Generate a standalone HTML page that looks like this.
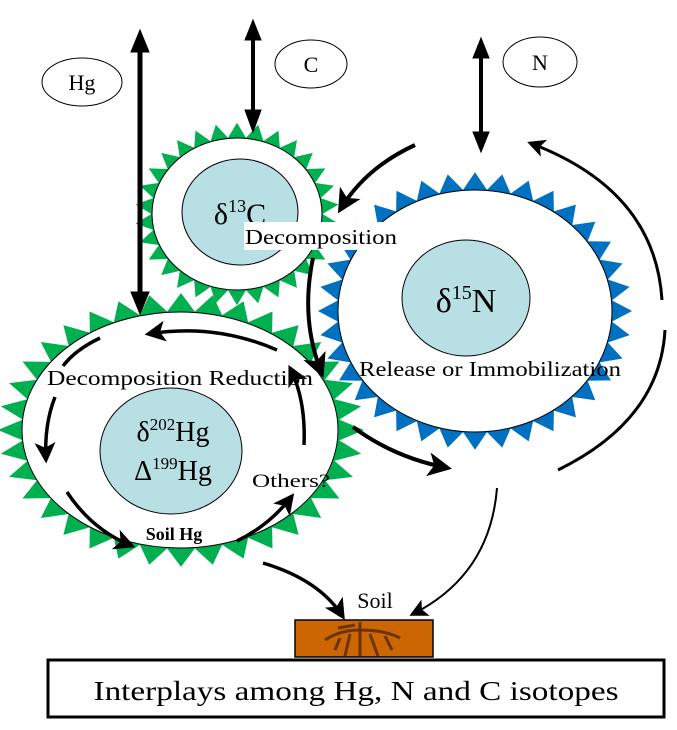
<!DOCTYPE html>
<html><head><meta charset="utf-8"><style>
html,body{margin:0;padding:0;background:#fff;}
svg{display:block;font-family:"Liberation Serif",serif;}
</style></head><body>
<svg width="677" height="730" viewBox="0 0 677 730" xmlns="http://www.w3.org/2000/svg" xmlns:xlink="http://www.w3.org/1999/xlink">
<defs>
<marker id="ah" markerWidth="9" markerHeight="9" refX="7" refY="4.5" orient="auto" markerUnits="strokeWidth"><path d="M0,0 L9,4.5 L0,9 L2,4.5z" fill="#000"/></marker>
<marker id="ah2" markerWidth="6" markerHeight="6" refX="5" refY="3" orient="auto" markerUnits="strokeWidth"><path d="M0,0 L6,3 L0,6 L1.5,3z" fill="#000"/></marker>
<polygon id="th" points="-14,-158 0,-183 14,-158" fill="#00b050"/>
<polygon id="tc" points="-9,-85 0,-102 9,-85" fill="#00b050"/>
<polygon id="tn" points="-12,-137 0,-157 12,-137" fill="#0070c0"/>
</defs>

<g transform="translate(475,311) scale(1,0.884)">
<use href="#tn" transform="rotate(0)"/><use href="#tn" transform="rotate(10)"/><use href="#tn" transform="rotate(20)"/><use href="#tn" transform="rotate(30)"/><use href="#tn" transform="rotate(40)"/><use href="#tn" transform="rotate(50)"/><use href="#tn" transform="rotate(60)"/><use href="#tn" transform="rotate(70)"/><use href="#tn" transform="rotate(80)"/><use href="#tn" transform="rotate(90)"/><use href="#tn" transform="rotate(100)"/><use href="#tn" transform="rotate(110)"/><use href="#tn" transform="rotate(120)"/><use href="#tn" transform="rotate(130)"/><use href="#tn" transform="rotate(140)"/><use href="#tn" transform="rotate(150)"/><use href="#tn" transform="rotate(160)"/><use href="#tn" transform="rotate(170)"/><use href="#tn" transform="rotate(180)"/><use href="#tn" transform="rotate(190)"/><use href="#tn" transform="rotate(200)"/><use href="#tn" transform="rotate(210)"/><use href="#tn" transform="rotate(220)"/><use href="#tn" transform="rotate(230)"/><use href="#tn" transform="rotate(240)"/><use href="#tn" transform="rotate(250)"/><use href="#tn" transform="rotate(260)"/><use href="#tn" transform="rotate(270)"/><use href="#tn" transform="rotate(280)"/><use href="#tn" transform="rotate(290)"/><use href="#tn" transform="rotate(300)"/><use href="#tn" transform="rotate(310)"/><use href="#tn" transform="rotate(320)"/><use href="#tn" transform="rotate(330)"/><use href="#tn" transform="rotate(340)"/><use href="#tn" transform="rotate(350)"/>
<circle r="138" fill="#0070c0"/>
</g>
<ellipse cx="475" cy="311" rx="137" ry="121" fill="#fff" stroke="#000" stroke-width="1"/>
<ellipse cx="466" cy="298" rx="64" ry="58" fill="#b8dfe3" stroke="#000" stroke-width="1"/>
<text x="466" y="312" font-size="34" text-anchor="middle">δ<tspan font-size="20" dy="-13">15</tspan><tspan dy="13">N</tspan></text>
<text x="490" y="376" font-size="21" text-anchor="middle" textLength="262" lengthAdjust="spacingAndGlyphs">Release or Immobilization</text>

<g transform="translate(237,214) scale(1,0.895)">
<use href="#tc" transform="rotate(0)"/><use href="#tc" transform="rotate(12)"/><use href="#tc" transform="rotate(24)"/><use href="#tc" transform="rotate(36)"/><use href="#tc" transform="rotate(48)"/><use href="#tc" transform="rotate(60)"/><use href="#tc" transform="rotate(72)"/><use href="#tc" transform="rotate(84)"/><use href="#tc" transform="rotate(96)"/><use href="#tc" transform="rotate(108)"/><use href="#tc" transform="rotate(120)"/><use href="#tc" transform="rotate(132)"/><use href="#tc" transform="rotate(144)"/><use href="#tc" transform="rotate(156)"/><use href="#tc" transform="rotate(168)"/><use href="#tc" transform="rotate(180)"/><use href="#tc" transform="rotate(192)"/><use href="#tc" transform="rotate(204)"/><use href="#tc" transform="rotate(216)"/><use href="#tc" transform="rotate(228)"/><use href="#tc" transform="rotate(240)"/><use href="#tc" transform="rotate(252)"/><use href="#tc" transform="rotate(264)"/><use href="#tc" transform="rotate(276)"/><use href="#tc" transform="rotate(288)"/><use href="#tc" transform="rotate(300)"/><use href="#tc" transform="rotate(312)"/><use href="#tc" transform="rotate(324)"/><use href="#tc" transform="rotate(336)"/><use href="#tc" transform="rotate(348)"/>
<circle r="86" fill="#00b050"/>
</g>
<ellipse cx="237" cy="214" rx="85" ry="76" fill="#fff" stroke="#000" stroke-width="1"/>
<ellipse cx="240" cy="212" rx="58" ry="53" fill="#b8dfe3" stroke="#000" stroke-width="1"/>
<text x="240" y="224" font-size="30" text-anchor="middle">δ<tspan font-size="18" dy="-12">13</tspan><tspan dy="12">C</tspan></text>
<rect x="244" y="222" width="154" height="28" fill="#fff"/>
<text x="245" y="244" font-size="21" textLength="152" lengthAdjust="spacingAndGlyphs">Decomposition</text>

<g transform="translate(181,430) scale(1,0.748)">
<use href="#th" transform="rotate(0)"/><use href="#th" transform="rotate(10)"/><use href="#th" transform="rotate(20)"/><use href="#th" transform="rotate(30)"/><use href="#th" transform="rotate(40)"/><use href="#th" transform="rotate(50)"/><use href="#th" transform="rotate(60)"/><use href="#th" transform="rotate(70)"/><use href="#th" transform="rotate(80)"/><use href="#th" transform="rotate(90)"/><use href="#th" transform="rotate(100)"/><use href="#th" transform="rotate(110)"/><use href="#th" transform="rotate(120)"/><use href="#th" transform="rotate(130)"/><use href="#th" transform="rotate(140)"/><use href="#th" transform="rotate(150)"/><use href="#th" transform="rotate(160)"/><use href="#th" transform="rotate(170)"/><use href="#th" transform="rotate(180)"/><use href="#th" transform="rotate(190)"/><use href="#th" transform="rotate(200)"/><use href="#th" transform="rotate(210)"/><use href="#th" transform="rotate(220)"/><use href="#th" transform="rotate(230)"/><use href="#th" transform="rotate(240)"/><use href="#th" transform="rotate(250)"/><use href="#th" transform="rotate(260)"/><use href="#th" transform="rotate(270)"/><use href="#th" transform="rotate(280)"/><use href="#th" transform="rotate(290)"/><use href="#th" transform="rotate(300)"/><use href="#th" transform="rotate(310)"/><use href="#th" transform="rotate(320)"/><use href="#th" transform="rotate(330)"/><use href="#th" transform="rotate(340)"/><use href="#th" transform="rotate(350)"/>
<circle r="159" fill="#00b050"/>
</g>
<ellipse cx="180" cy="430" rx="158" ry="118" fill="#fff" stroke="#000" stroke-width="1"/>
<ellipse cx="171" cy="451" rx="71" ry="63" fill="#b8dfe3" stroke="#000" stroke-width="1"/>
<text x="173" y="441" font-size="28" text-anchor="middle">δ<tspan font-size="17" dy="-11">202</tspan><tspan dy="11">Hg</tspan></text>
<text x="173" y="480" font-size="28" text-anchor="middle">Δ<tspan font-size="17" dy="-11">199</tspan><tspan dy="11">Hg</tspan></text>
<text x="47" y="385" font-size="21" textLength="266" lengthAdjust="spacingAndGlyphs">Decomposition Reduction</text>
<text x="252" y="487" font-size="19" textLength="78" lengthAdjust="spacingAndGlyphs">Others?</text>
<text x="174" y="540" font-size="18" font-weight="bold" text-anchor="middle">Soil Hg</text>

<g fill="none" stroke="#000" stroke-width="3.5">
<path d="M277,350 Q215,323 148,334" marker-end="url(#ah2)"/>
<path d="M100,338 Q75,350 63,366"/>
<path d="M55,397 Q44,425 46,460" marker-end="url(#ah2)"/>
<path d="M67,492 Q92,530 132,546" marker-end="url(#ah2)"/>
<path d="M237,541 Q270,525 292,496" marker-end="url(#ah2)"/>
<path d="M304,445 Q306,400 290,368" marker-end="url(#ah2)"/>
</g>

<g fill="none" stroke="#000">
<path d="M415,145 Q365,168 340,210" stroke-width="4" marker-end="url(#ah2)"/>
<path d="M662,300 Q655,190 530,143" stroke-width="3" marker-end="url(#ah2)"/>
<path d="M665,330 Q660,420 558,470" stroke-width="3"/>
<path d="M313,258 Q300,320 322,374" stroke-width="4" marker-end="url(#ah2)"/>
<path d="M353,427 Q395,458 448,468" stroke-width="4" marker-end="url(#ah2)"/>
<path d="M497,488 Q490,575 413,614" stroke-width="2" marker-end="url(#ah)"/>
<path d="M263,563 Q320,580 343,617" stroke-width="3.5" marker-end="url(#ah2)"/>
</g>

<g stroke="#000" fill="#000">
<line x1="140" y1="50" x2="140" y2="296" stroke-width="5"/>
<path d="M131,52 L140,30 L149,52z"/><path d="M131,292 L140,314 L149,292z"/>
<line x1="253" y1="40" x2="253" y2="112" stroke-width="4"/>
<path d="M245,40 L253,20 L261,40z"/><path d="M245,110 L253,132 L261,110z"/>
<line x1="481" y1="56" x2="481" y2="134" stroke-width="4"/>
<path d="M473,58 L481,38 L489,58z"/><path d="M473,132 L481,152 L489,132z"/>
</g>

<ellipse cx="82" cy="82" rx="40" ry="24" fill="#fff" stroke="#000" stroke-width="1"/>
<text x="82" y="90" font-size="22" text-anchor="middle">Hg</text>
<ellipse cx="311" cy="64" rx="36" ry="24" fill="#fff" stroke="#000" stroke-width="1"/>
<text x="311" y="72" font-size="22" text-anchor="middle">C</text>
<ellipse cx="540" cy="62" rx="37" ry="25" fill="#fff" stroke="#000" stroke-width="1"/>
<text x="540" y="70" font-size="22" text-anchor="middle">N</text>

<text x="375" y="608" font-size="22" text-anchor="middle">Soil</text>
<rect x="295" y="620" width="138" height="37" fill="#cc6600" stroke="#000" stroke-width="1.5"/>
<g stroke="#6b3300" stroke-width="3" fill="none">
<path d="M360,622 L360,656 M360,630 Q340,630 325,640 M360,630 Q385,630 400,638 M350,634 L345,656 M370,634 L378,656 M340,638 L335,650 M385,636 L392,650 M355,625 L338,628"/>
</g>
<rect x="48" y="660" width="616" height="57" fill="#fff" stroke="#000" stroke-width="3"/>
<text x="356" y="700" font-size="27" text-anchor="middle" textLength="525" lengthAdjust="spacingAndGlyphs">Interplays among Hg, N and C isotopes</text>
</svg>
</body></html>
